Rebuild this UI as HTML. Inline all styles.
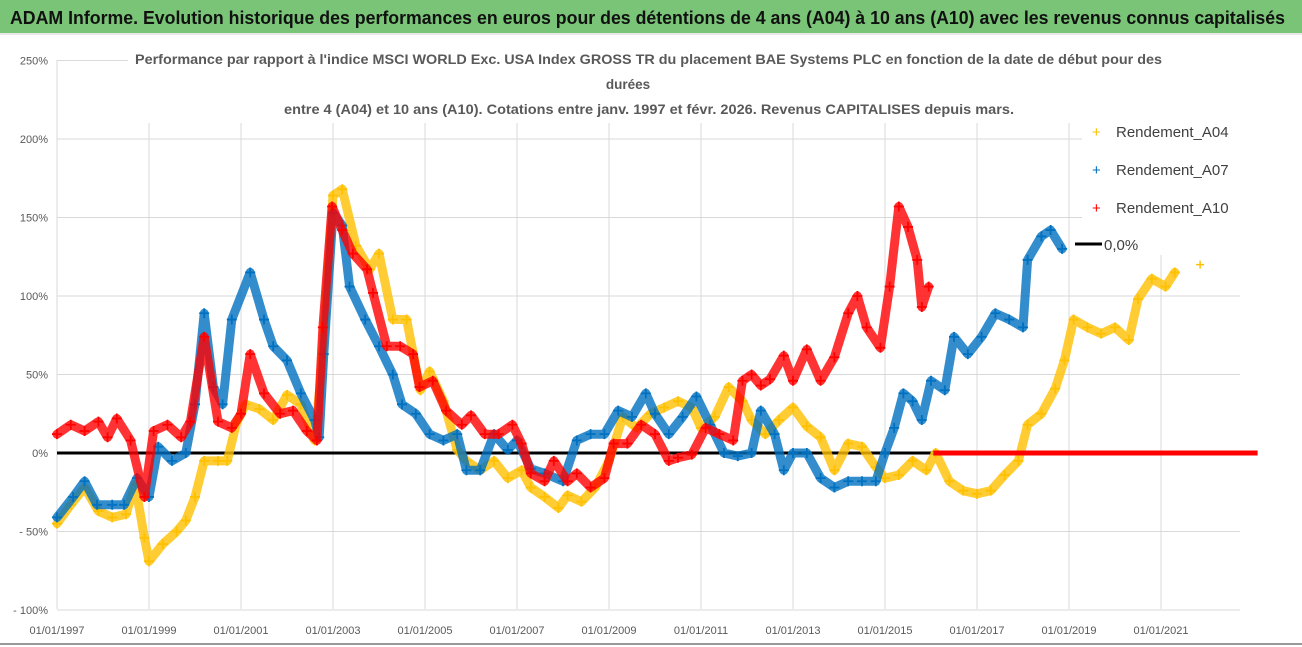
<!DOCTYPE html>
<html><head><meta charset="utf-8"><style>
html,body{margin:0;padding:0;background:#fff;}
svg{display:block;font-family:"Liberation Sans",sans-serif;}
</style></head><body>
<svg id="chart" width="1302" height="647" viewBox="0 0 1302 647" xmlns="http://www.w3.org/2000/svg">
<rect x="0" y="0" width="1302" height="647" fill="#fff"/>
<rect x="0" y="0" width="1302" height="33" fill="#79c477"/>
<rect x="0" y="33" width="1302" height="2" fill="#e8e8e8"/>
<text x="10" y="24" font-size="18" font-weight="bold" fill="#111" textLength="1275" lengthAdjust="spacingAndGlyphs">ADAM Informe. Evolution historique des performances en euros pour des détentions de 4 ans (A04) à 10 ans (A10) avec les revenus connus capitalisés</text>
<rect x="0" y="643" width="1302" height="2" fill="#999"/>
<g id="grid"></g>
<g id="series"></g>
<g id="axes"></g>
<g font-size="13.5" font-weight="bold" fill="#595959">
<rect x="128" y="46" width="1040" height="74" fill="#fff"/>
<text x="135" y="64" textLength="1027" lengthAdjust="spacingAndGlyphs">Performance par rapport à l'indice MSCI WORLD Exc. USA Index GROSS TR  du placement BAE Systems PLC en fonction de la date de début pour des</text>
<text x="628" y="89" text-anchor="middle">durées</text>
<text x="284" y="114" textLength="730" lengthAdjust="spacingAndGlyphs">entre 4 (A04) et 10 ans (A10). Cotations entre janv. 1997 et févr. 2026. Revenus CAPITALISES depuis mars.</text>
</g>
<g id="legend" font-size="15" fill="#404040">
<rect x="1082" y="115" width="200" height="140" fill="#fff"/>
<text x="1116" y="137"><tspan fill="#ffc000" x="1092" font-size="15">+</tspan><tspan x="1116">Rendement_A04</tspan></text>
<text x="1116" y="175"><tspan fill="#0070c0" x="1092" font-size="15">+</tspan><tspan x="1116">Rendement_A07</tspan></text>
<text x="1116" y="213"><tspan fill="#ff0000" x="1092" font-size="15">+</tspan><tspan x="1116">Rendement_A10</tspan></text>
<line x1="1075" y1="244" x2="1102" y2="244" stroke="#000" stroke-width="3"/>
<text x="1104" y="250">0,0%</text>
</g>
</svg>
<script>
const yTicks = [250, 200, 150, 100, 50, 0, -50, -100];
const yTickLabels = ['250%','200%','150%','100%','50%','0%','- 50%','- 100%'];
const xTicks = [1997,1999,2001,2003,2005,2007,2009,2011,2013,2015,2017,2019,2021];
const xTickLabels = ['01/01/1997','01/01/1999','01/01/2001','01/01/2003','01/01/2005','01/01/2007','01/01/2009','01/01/2011','01/01/2013','01/01/2015','01/01/2017','01/01/2019','01/01/2021'];

const a04Dates = [1997.0,1997.3,1997.6,1997.9,1998.2,1998.5,1998.7,1998.9,1999.0,1999.3,1999.6,1999.8,2000.0,2000.2,2000.5,2000.7,2000.9,2001.1,2001.4,2001.7,2002.0,2002.3,2002.6,2002.75,2003.0,2003.2,2003.5,2003.8,2004.0,2004.3,2004.6,2004.9,2005.1,2005.4,2005.7,2005.9,2006.2,2006.5,2006.8,2007.1,2007.3,2007.6,2007.9,2008.1,2008.4,2008.7,2009.0,2009.3,2009.6,2009.9,2010.2,2010.5,2010.8,2011.0,2011.3,2011.6,2011.9,2012.1,2012.4,2012.7,2013.0,2013.3,2013.6,2013.9,2014.2,2014.5,2014.8,2015.0,2015.3,2015.6,2015.9,2016.1,2016.4,2016.7,2017.0,2017.3,2017.6,2017.9,2018.1,2018.4,2018.7,2018.9,2019.1,2019.4,2019.7,2020.0,2020.3,2020.5,2020.8,2021.1,2021.3];
const a04Values = [-45,-33,-22,-37,-41,-39,-20,-54,-69,-58,-50,-43,-28,-5,-5,-5,19,31,28,21,37,31,8,53,164,168,132,117,127,85,85,40,52,33,2,-5,-11,-5,-16,-11,-22,-28,-35,-27,-31,-22,-5,23,16,25,29,33,29,16,23,42,33,21,12,21,29,17,10,-11,6,4,-9,-16,-14,-5,-11,0,-18,-24,-26,-24,-14,-5,18,25,41,59,85,80,76,80,72,98,111,106,115];

const a07Dates = [1997.0,1997.35,1997.6,1997.87,1998.2,1998.46,1998.74,1999.0,1999.2,1999.5,1999.8,2000.0,2000.2,2000.4,2000.6,2000.8,2001.2,2001.5,2001.7,2002.0,2002.3,2002.6,2002.7,2002.8,2003.0,2003.2,2003.36,2003.7,2004.0,2004.3,2004.5,2004.8,2005.1,2005.4,2005.7,2005.9,2006.2,2006.5,2006.8,2007.0,2007.3,2007.6,2008.0,2008.3,2008.6,2008.9,2009.2,2009.5,2009.8,2010.0,2010.3,2010.6,2010.9,2011.2,2011.5,2011.8,2012.1,2012.3,2012.6,2012.8,2013.0,2013.3,2013.6,2013.9,2014.2,2014.5,2014.8,2015.0,2015.2,2015.4,2015.6,2015.8,2016.0,2016.3,2016.5,2016.8,2017.1,2017.4,2017.7,2018.0,2018.1,2018.4,2018.6,2018.85];
const a07Values = [-41,-28,-18,-33,-33,-33,-16,-28,4,-5,0,31,89,42,31,85,115,85,68,59,38,21,10,63,153,145,106,85,68,50,31,25,12,8,12,-11,-11,12,2,8,-10,-13,-18,8,12,12,27,23,38,25,12,23,36,18,0,-2,0,27,12,-11,0,0,-16,-22,-18,-18,-18,0,16,38,33,21,46,40,74,63,74,89,85,80,123,138,142,130];

const a10Dates = [1997.0,1997.3,1997.6,1997.9,1998.1,1998.3,1998.6,1998.9,1999.1,1999.4,1999.7,1999.9,2000.2,2000.5,2000.8,2001.0,2001.2,2001.5,2001.85,2002.13,2002.43,2002.65,2002.78,2002.98,2003.2,2003.43,2003.74,2003.87,2004.17,2004.46,2004.74,2004.88,2005.17,2005.46,2005.8,2006.0,2006.3,2006.6,2006.9,2007.1,2007.3,2007.6,2007.8,2008.1,2008.3,2008.6,2008.9,2009.1,2009.4,2009.7,2010.0,2010.3,2010.5,2010.8,2011.1,2011.4,2011.7,2011.9,2012.1,2012.3,2012.5,2012.8,2013.0,2013.3,2013.6,2013.9,2014.2,2014.4,2014.6,2014.9,2015.1,2015.3,2015.5,2015.7,2015.8,2015.95];
const a10Values = [12,18,14,20,10,22,8,-28,14,18,10,20,74,20,16,25,63,38,25,27,14,8,80,157,142,127,117,102,68,68,63,42,46,27,18,24,12,12,18,6,-13,-18,-5,-18,-13,-22,-16,6,6,18,12,-5,-3,-1,16,12,8,46,50,43,47,62,46,66,46,61,89,100,80,67,106,157,144,123,93,106];
const a10ZeroDates = [2016.05, 2023.1];
const a10ZeroValues = [0, 0];

const NS = 'http://www.w3.org/2000/svg';
const X0 = 57, PXY = 46, Y0 = 453, PXP = 78.5/50;
function xs(t){ return X0 + (t - 1997) * PXY; }
function ys(v){ return Y0 - v * PXP; }
function mk(tag, attrs, parent){ const e = document.createElementNS(NS, tag); for (const k in attrs) e.setAttribute(k, attrs[k]); parent.appendChild(e); return e; }

const grid = document.getElementById('grid');
const axes = document.getElementById('axes');
yTicks.forEach((v, i) => {
  const y = ys(v);
  const ln = mk('line', {x1: X0, x2: v === 250 ? 130 : 1240, y1: y, y2: y, stroke: '#d9d9d9', 'stroke-width': 1}, grid);
  
  
  const t = mk('text', {x: 48, y: y + 4, 'text-anchor': 'end', 'font-size': 11, fill: '#595959'}, axes);
  t.textContent = yTickLabels[i];
  
  
});
xTicks.forEach((yr, i) => {
  const x = xs(yr);
  if (i > 0) {
    const ln = mk('line', {x1: x, x2: x, y1: 123, y2: 609, stroke: '#d9d9d9', 'stroke-width': 1}, grid);
    
    
  }
  const t = mk('text', {x: x, y: 634, 'text-anchor': 'middle', 'font-size': 11, fill: '#595959'}, axes);
  t.textContent = xTickLabels[i];
  
  
});
const yAxis = mk('line', {x1: X0, x2: X0, y1: 60, y2: 609, stroke: '#d9d9d9', 'stroke-width': 1}, grid);



const series = document.getElementById('series');
const zero = mk('line', {x1: X0, x2: 1240, y1: ys(0), y2: ys(0), stroke: '#000', 'stroke-width': 3}, series);



function drawSeries(dates, vals, color, name){
  const g = mk('g', {}, series);
  
  
  const pts = dates.map((d, i) => xs(d).toFixed(1) + ',' + ys(vals[i]).toFixed(1)).join(' ');
  const pl = mk('polyline', {points: pts, fill: 'none', stroke: color, 'stroke-width': 9, 'stroke-opacity': 0.8, 'stroke-linejoin': 'round', 'stroke-linecap': 'round'}, g);
  
  
  dates.forEach((d, i) => {
    const x = xs(d), y = ys(vals[i]);
    const p = mk('path', {d: `M${x-5},${y}H${x+5}M${x},${y-5}V${y+5}`, stroke: color, 'stroke-width': 1.8, fill: 'none'}, g);
    
    
  });
}
drawSeries(a04Dates, a04Values, '#ffc000', 'series-a04');
drawSeries(a07Dates, a07Values, '#0070c0', 'series-a07');
drawSeries(a10Dates, a10Values, '#ff0000', 'series-a10');
const zr = mk('line', {x1: xs(a10ZeroDates[0]), x2: xs(a10ZeroDates[1]), y1: ys(a10ZeroValues[0]), y2: ys(a10ZeroValues[1]), stroke: '#ff0000', 'stroke-width': 5}, series);


const lone = mk('path', {d: `M${xs(2021.85)-4},${ys(120)}h8M${xs(2021.85)},${ys(120)-4}v8`, stroke: '#ffc000', 'stroke-width': 1.5}, series);


</script>
</body></html>
